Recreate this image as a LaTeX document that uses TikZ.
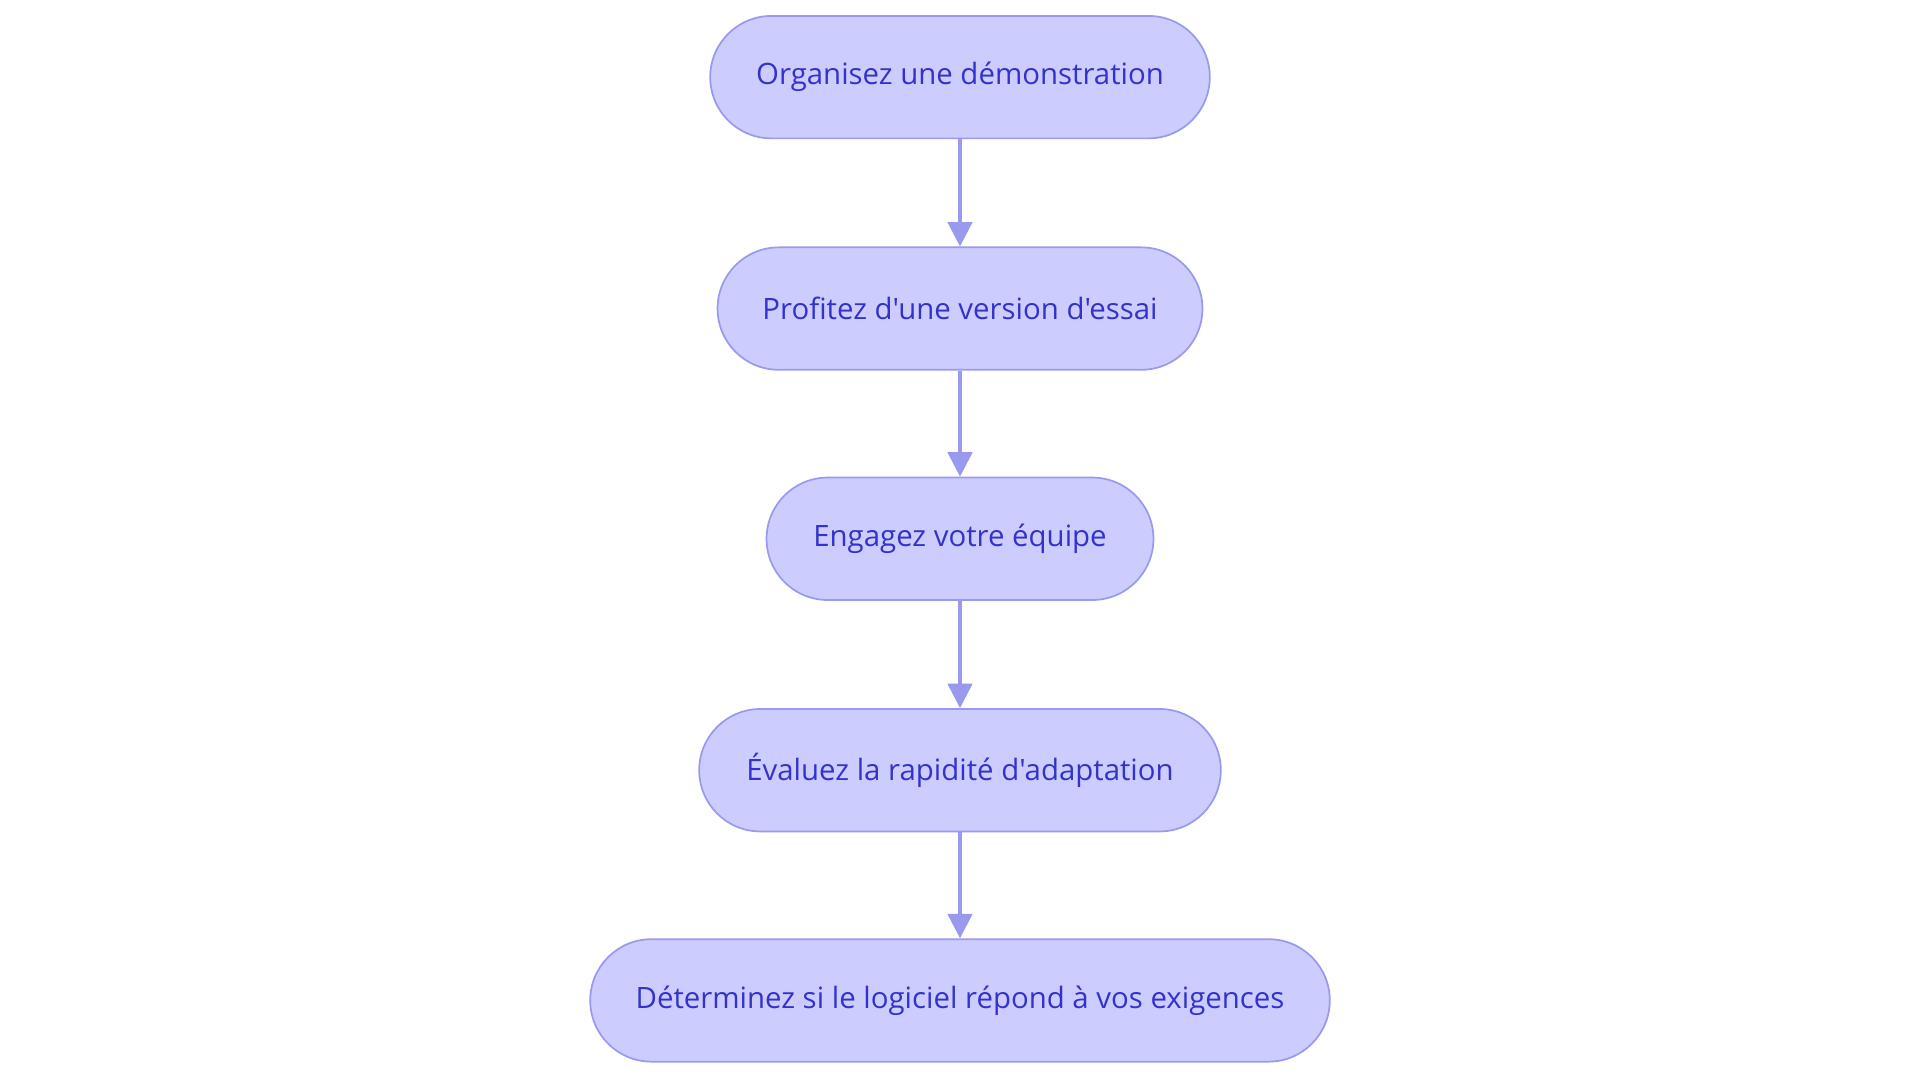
\documentclass[tikz,border=0pt]{standalone}
\usepackage{fontspec}
\setmainfont{Open Sans}[Ligatures=TeXOff]
\usetikzlibrary{arrows.meta}
\definecolor{nfill}{HTML}{CCCCFF}
\definecolor{nborder}{HTML}{9999EE}
\definecolor{ntext}{HTML}{3333CC}
\begin{document}
\begin{tikzpicture}[x=0.5pt,y=-0.5pt,
  box/.style={draw=nborder,line width=0.7pt,fill=nfill,text=ntext,rounded corners=25pt,minimum height=50pt,inner sep=0pt,font=\fontsize{12}{14}\selectfont},
  arr/.style={draw=nborder,line width=1.3pt,-{Triangle[length=10pt,width=10pt]}}]
\useasboundingbox (0,0) rectangle (1568,884);
\node[box,minimum width=204pt] (a) at (784,63) {Organisez une démonstration};
\node[box,minimum width=198pt] (b) at (784,252) {Profitez d'une version d'essai};
\node[box,minimum width=158pt] (c) at (784,440) {Engagez votre équipe};
\node[box,minimum width=213pt] (d) at (784,629) {Évaluez la rapidité d'adaptation};
\node[box,minimum width=302pt] (e) at (784,817) {Déterminez si le logiciel répond à vos exigences};
\draw[arr] (a) -- (b);
\draw[arr] (b) -- (c);
\draw[arr] (c) -- (d);
\draw[arr] (d) -- (e);
\end{tikzpicture}
\end{document}
